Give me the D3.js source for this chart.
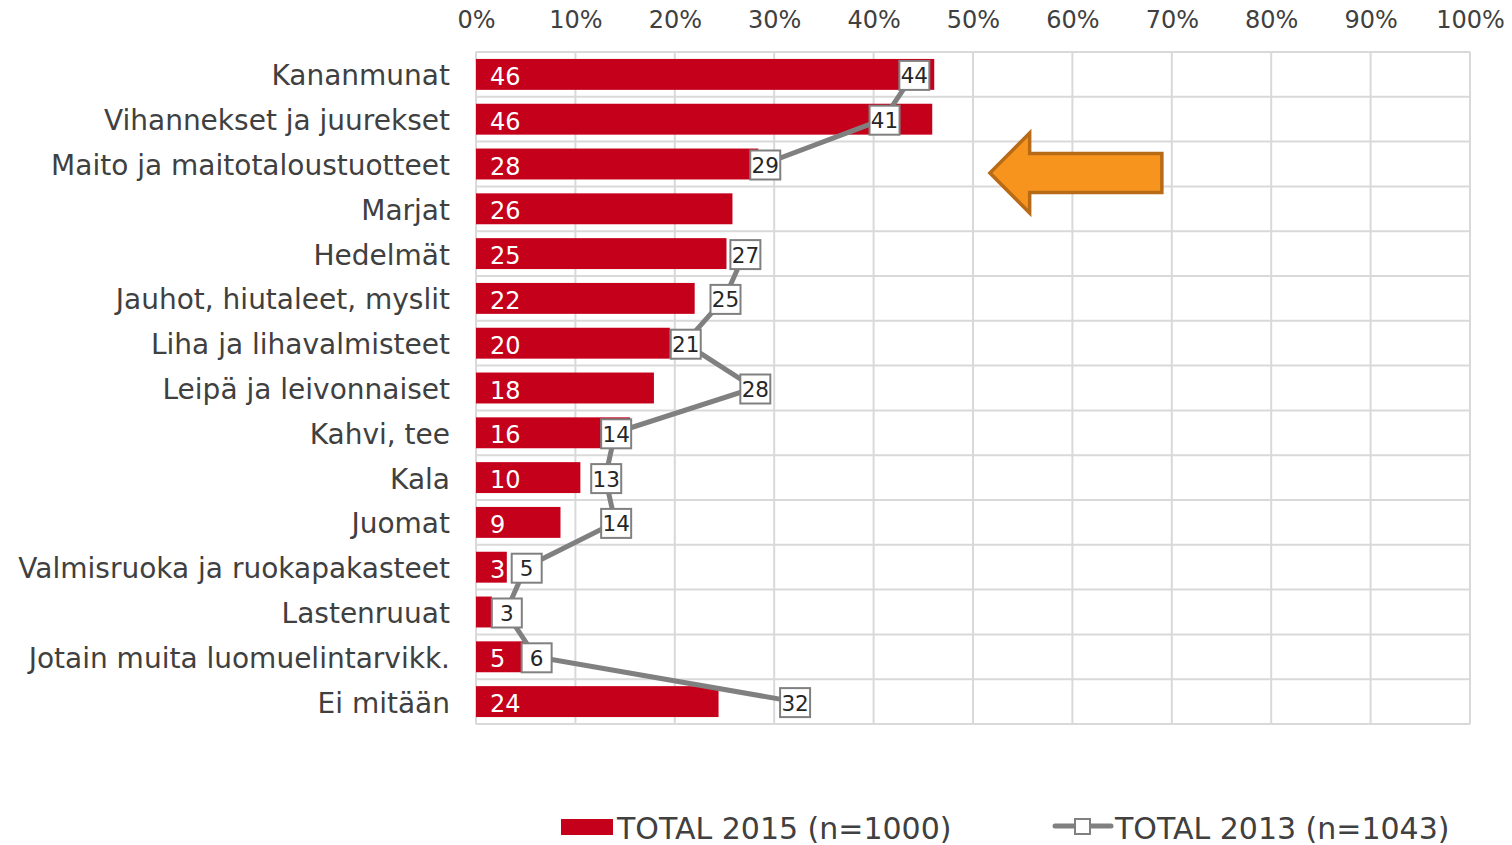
<!DOCTYPE html>
<html>
<head>
<meta charset="utf-8">
<script src="https://cdn.jsdelivr.net/npm/d3@7"></script>
<style>
  body { margin: 0; background: #fff; }
  svg { display: block; font-family: 'DejaVu Sans', Verdana, sans-serif; }
</style>
</head>
<body>
<svg width="1512" height="845"></svg>
<script>
// Chart data
const categories = [
  'Kananmunat', 'Vihannekset ja juurekset', 'Maito ja maitotaloustuotteet',
  'Marjat', 'Hedelmät', 'Jauhot, hiutaleet, myslit', 'Liha ja lihavalmisteet',
  'Leipä ja leivonnaiset', 'Kahvi, tee', 'Kala', 'Juomat',
  'Valmisruoka ja ruokapakasteet', 'Lastenruuat', 'Jotain muita luomuelintarvikk.',
  'Ei mitään',
];
// bar lengths (labels are rounded)
const total2015 = [46.1, 45.9, 28.4, 25.8, 25.2, 22, 19.5, 17.9, 15.5, 10.5, 8.5, 3.1, 1.6, 4.8, 24.4];
const labels2015 = ['46', '46', '28', '26', '25', '22', '20', '18', '16', '10', '9', '3', '', '5', '24'];
const total2013 = [44, 41, 29, null, 27, 25, 21, 28, 14, 13, 14, 5, 3, 6, 32];
const xTicks = [0, 10, 20, 30, 40, 50, 60, 70, 80, 90, 100];
const seriesNames = ['TOTAL 2015 (n=1000)', 'TOTAL 2013 (n=1043)'];

const svg = d3.select('svg');
const plotLeft = 476;
const plotRight = 1470;
const plotTop = 52;
const plotBottom = 724;

const x = d3.scaleLinear().domain([0, 100]).range([plotLeft, plotRight]);
const y = d3.scaleBand()
  .domain(categories)
  .range([plotTop, plotBottom])
  .paddingInner(0.31)
  .paddingOuter(0.155);
const step = y.step();
const rowTop = (c) => y(c) - step * 0.155;
const mid = (c) => y(c) + y.bandwidth() / 2;

// Grid
const grid = svg.append('g').attr('stroke', '#d9d9d9').attr('stroke-width', 2);
grid.selectAll('.vline')
  .data(xTicks)
  .enter()
  .append('line')
  .attr('x1', (d) => x(d))
  .attr('x2', (d) => x(d))
  .attr('y1', plotTop)
  .attr('y2', plotBottom);
grid.selectAll('.hline')
  .data(d3.range(categories.length + 1))
  .enter()
  .append('line')
  .attr('x1', plotLeft)
  .attr('x2', plotRight)
  .attr('y1', (i) => plotTop + i * step)
  .attr('y2', (i) => plotTop + i * step);

// Top axis labels
const xAxis = d3.axisTop(x).tickValues(xTicks).tickFormat((d) => `${d}%`).tickSize(0);
svg.append('g')
  .attr('transform', `translate(0, ${plotTop - 21})`)
  .call(xAxis)
  .call((g) => g.select('.domain').remove())
  .selectAll('text')
  .attr('fill', '#404040')
  .style('font-size', '24px')
  .style('font-family', "'DejaVu Sans', Verdana, sans-serif");

// Category labels
svg.append('g')
  .selectAll('text')
  .data(categories)
  .enter()
  .append('text')
  .attr('x', 450)
  .attr('y', (d) => mid(d) + 1)
  .attr('dy', '0.36em')
  .attr('text-anchor', 'end')
  .attr('fill', '#404040')
  .style('font-size', '28px')
  .text((d) => d);

// Bars 2015
svg.append('g')
  .selectAll('rect')
  .data(categories)
  .enter()
  .append('rect')
  .attr('x', x(0))
  .attr('y', (d) => y(d))
  .attr('width', (d, i) => x(total2015[i]) - x(0))
  .attr('height', y.bandwidth())
  .attr('fill', '#c5001a');

svg.append('g')
  .selectAll('text')
  .data(categories)
  .enter()
  .append('text')
  .attr('x', x(0) + 14)
  .attr('y', (d) => mid(d) + 1.5)
  .attr('dy', '0.38em')
  .attr('fill', '#fff')
  .style('font-size', '24px')
  .text((d, i) => labels2015[i]);

// Line 2013
const pts = categories.map((c, i) => ({ c, v: total2013[i] }));
const line = d3.line()
  .defined((d) => d.v !== null)
  .x((d) => x(d.v))
  .y((d) => mid(d.c));
svg.append('path')
  .datum(pts)
  .attr('d', line)
  .attr('fill', 'none')
  .attr('stroke', '#808080')
  .attr('stroke-width', 5);

const boxes = svg.append('g')
  .selectAll('g')
  .data(pts.filter((d) => d.v !== null))
  .enter()
  .append('g')
  .attr('transform', (d) => `translate(${x(d.v) + 1}, ${mid(d.c) + 1})`);
boxes.append('rect')
  .attr('x', -15)
  .attr('y', -14.5)
  .attr('width', 30)
  .attr('height', 29)
  .attr('fill', '#fff')
  .attr('stroke', '#808080')
  .attr('stroke-width', 2);
boxes.append('text')
  .attr('text-anchor', 'middle')
  .attr('dy', '0.37em')
  .attr('fill', '#262626')
  .style('font-size', '21.5px')
  .text((d) => d.v);

// Arrow annotation pointing at the Maito row
const ay = rowTop('Maito ja maitotaloustuotteet') + step * 0.7;
const tipX = x(51.7);
const headX = x(55.7);
const endX = x(69);
const arrow = [
  [tipX, ay],
  [headX, ay - 40],
  [headX, ay - 19.5],
  [endX, ay - 19.5],
  [endX, ay + 19.5],
  [headX, ay + 19.5],
  [headX, ay + 40],
];
svg.append('path')
  .attr('d', `M${arrow.map((p) => p.join(',')).join('L')}Z`)
  .attr('fill', '#f7941d')
  .attr('stroke', '#b86b17')
  .attr('stroke-width', 3.5)
  .attr('stroke-linejoin', 'miter');

// Legend
const legend = svg.append('g').style('font-size', '30px').attr('fill', '#404040');
legend.append('rect')
  .attr('x', 561)
  .attr('y', 819)
  .attr('width', 52)
  .attr('height', 16)
  .attr('fill', '#c5001a');
legend.append('text')
  .attr('x', 617)
  .attr('y', 839)
  .text(seriesNames[0]);

legend.append('line')
  .attr('x1', 1055)
  .attr('x2', 1111)
  .attr('y1', 826)
  .attr('y2', 826)
  .attr('stroke', '#808080')
  .attr('stroke-width', 5)
  .attr('stroke-linecap', 'round');
legend.append('rect')
  .attr('x', 1075)
  .attr('y', 819)
  .attr('width', 15)
  .attr('height', 15)
  .attr('fill', '#fff')
  .attr('stroke', '#808080')
  .attr('stroke-width', 2);
legend.append('text')
  .attr('x', 1115)
  .attr('y', 839)
  .text(seriesNames[1]);
</script>
</body>
</html>
